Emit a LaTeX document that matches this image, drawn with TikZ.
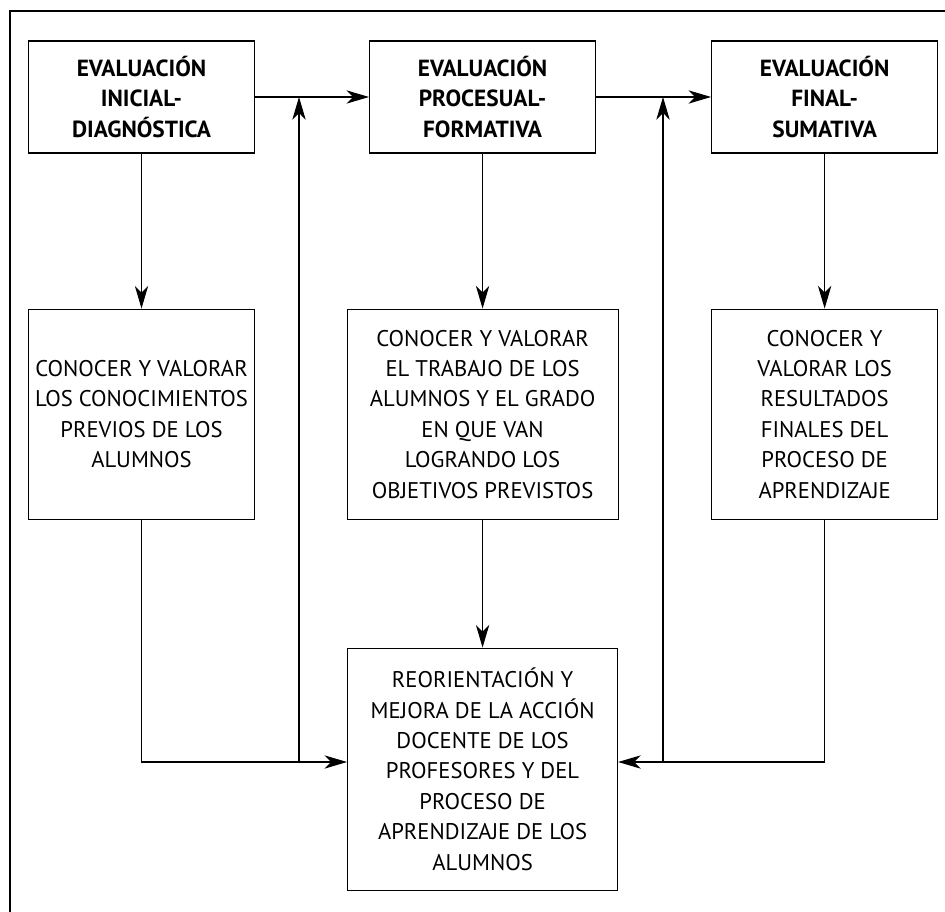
\documentclass[tikz,border=0pt]{standalone}
\usepackage{fontspec}
\setmainfont{PT Sans}
\usetikzlibrary{arrows.meta,positioning}

\begin{document}
\begin{tikzpicture}[x=0.75pt, y=-0.75pt, line width=0.8pt,
      >={Stealth[length=17pt, width=10pt, inset=5pt]},
      head/.style={draw, align=center, inner sep=0pt, minimum width=169.5pt,
                   minimum height=84pt, font=\fontsize{17.5}{23}\selectfont\bfseries},
      body/.style={draw, align=center, inner sep=0pt, minimum height=157.5pt,
                   font=\fontsize{17}{22.8}\selectfont},
      ar/.style={->}]
  \useasboundingbox (0,0) rectangle (945,912);
  % outer frame (only top and left edges show)
  \draw (10,912) -- (10,11) -- (945,11);
  % --- the three kinds of evaluation (top row) ---
  \node[head] (ini) at (141.5,97) {EVALUACIÓN\\INICIAL-\\DIAGNÓSTICA};
  \node[head, right=85.5pt of ini] (proc) {EVALUACIÓN\\PROCESUAL-\\FORMATIVA};
  \node[head, right=86.25pt of proc] (fin) {EVALUACIÓN\\FINAL-\\SUMATIVA};
  % --- what each one is for ---
  \node[body, minimum width=169.5pt, below=116.25pt of ini] (prev)
    {CONOCER Y VALORAR\\LOS CONOCIMIENTOS\\PREVIOS DE LOS\\ALUMNOS};
  \node[body, minimum width=203.25pt, below=116.25pt of proc] (trab)
    {CONOCER Y VALORAR\\EL TRABAJO DE LOS\\ALUMNOS Y EL GRADO\\EN QUE VAN\\LOGRANDO LOS\\OBJETIVOS PREVISTOS};
  \node[body, minimum width=169.5pt, below=116.25pt of fin] (res)
    {CONOCER Y\\VALORAR LOS\\RESULTADOS\\FINALES DEL\\PROCESO DE\\APRENDIZAJE};
  \node[body, minimum width=202.5pt, minimum height=181.5pt, below=96pt of trab] (reor)
    {REORIENTACIÓN Y\\MEJORA DE LA ACCIÓN\\DOCENTE DE LOS\\PROFESORES Y DEL\\PROCESO DE\\APRENDIZAJE DE LOS\\ALUMNOS};
  \draw[ar] (ini) -- (proc);
  \draw[ar] (proc) -- (fin);
  \draw[ar] (ini) -- (prev);
  \draw[ar] (proc) -- (trab);
  \draw[ar] (fin) -- (res);
  \draw[ar] (trab) -- (reor);
  % feedback: results go back into the next evaluation
  \coordinate (jl) at (299,762);
  \coordinate (jr) at (663,762);
  \draw[ar] (prev.south) |- (reor.west |- jl);
  \draw[ar] (res.south) |- (reor.east |- jr);
  \draw[ar] (jl) -- (jl |- ini.east);
  \draw[ar] (jr) -- (jr |- proc.east);
\end{tikzpicture}
\end{document}
